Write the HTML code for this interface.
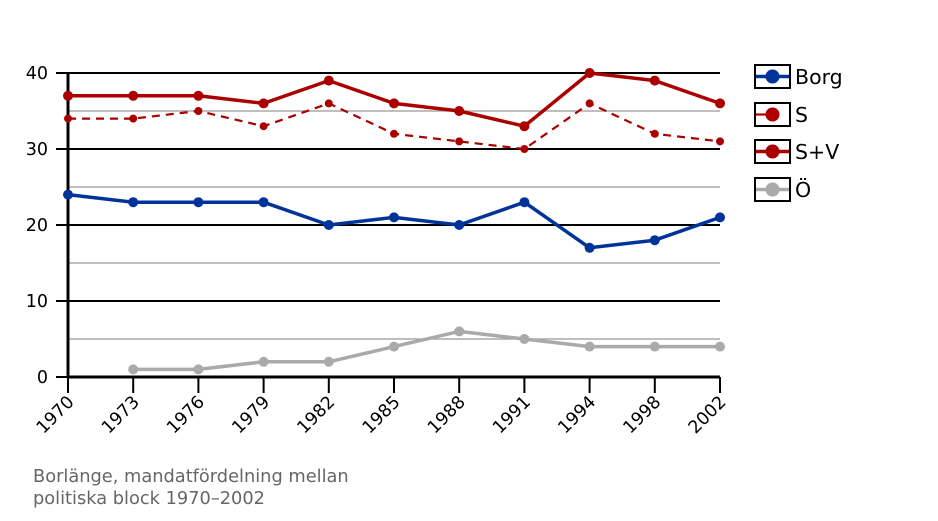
<!DOCTYPE html>
<html><head><meta charset="utf-8"><style>
html,body{margin:0;padding:0;background:#fff;}
svg{display:block;font-family:"DejaVu Sans","Liberation Sans",sans-serif;}
</style></head><body>
<svg width="938" height="521" viewBox="0 0 938 521">
<g stroke="#999" stroke-width="1.2">
<line x1="68" x2="720" y1="339" y2="339"/>
<line x1="68" x2="720" y1="263" y2="263"/>
<line x1="68" x2="720" y1="187" y2="187"/>
<line x1="68" x2="720" y1="111" y2="111"/>
</g>
<g stroke="#000" stroke-width="2">
<line x1="68" x2="720" y1="301" y2="301"/>
<line x1="68" x2="720" y1="225" y2="225"/>
<line x1="68" x2="720" y1="149" y2="149"/>
<line x1="68" x2="720" y1="73" y2="73"/>
<line x1="56" x2="68" y1="377" y2="377"/>
<line x1="56" x2="68" y1="301" y2="301"/>
<line x1="56" x2="68" y1="225" y2="225"/>
<line x1="56" x2="68" y1="149" y2="149"/>
<line x1="56" x2="68" y1="73" y2="73"/>
</g>
<g stroke="#000" stroke-width="2">
<line x1="68" x2="68" y1="377" y2="393"/>
<line x1="133.2" x2="133.2" y1="377" y2="393"/>
<line x1="198.4" x2="198.4" y1="377" y2="393"/>
<line x1="263.6" x2="263.6" y1="377" y2="393"/>
<line x1="328.8" x2="328.8" y1="377" y2="393"/>
<line x1="394" x2="394" y1="377" y2="393"/>
<line x1="459.2" x2="459.2" y1="377" y2="393"/>
<line x1="524.4" x2="524.4" y1="377" y2="393"/>
<line x1="589.6" x2="589.6" y1="377" y2="393"/>
<line x1="654.8" x2="654.8" y1="377" y2="393"/>
<line x1="720" x2="720" y1="377" y2="393"/>
</g>
<line x1="68" x2="720" y1="377" y2="377" stroke="#000" stroke-width="3"/>
<line x1="68" x2="68" y1="72" y2="378" stroke="#000" stroke-width="3"/>
<g font-size="17.5" fill="#000" text-anchor="end">
<text x="48" y="383">0</text><text x="48" y="307">10</text><text x="48" y="231">20</text><text x="48" y="155">30</text><text x="48" y="79">40</text>
</g>
<g font-size="17.5" fill="#000" text-anchor="end">
<text transform="translate(75,403) rotate(-45)">1970</text>
<text transform="translate(140.2,403) rotate(-45)">1973</text>
<text transform="translate(205.4,403) rotate(-45)">1976</text>
<text transform="translate(270.6,403) rotate(-45)">1979</text>
<text transform="translate(335.8,403) rotate(-45)">1982</text>
<text transform="translate(401,403) rotate(-45)">1985</text>
<text transform="translate(466.2,403) rotate(-45)">1988</text>
<text transform="translate(531.4,403) rotate(-45)">1991</text>
<text transform="translate(596.6,403) rotate(-45)">1994</text>
<text transform="translate(661.8,403) rotate(-45)">1998</text>
<text transform="translate(727,403) rotate(-45)">2002</text>
</g>
<g fill="none" stroke-width="3.5" stroke-linejoin="round">
<polyline stroke="#aaa" points="133.2,369.4 198.4,369.4 263.6,361.8 328.8,361.8 394,346.6 459.2,331.4 524.4,339 589.6,346.6 654.8,346.6 720,346.6"/>
<polyline stroke="#003399" points="68,194.6 133.2,202.2 198.4,202.2 263.6,202.2 328.8,225 394,217.4 459.2,225 524.4,202.2 589.6,247.8 654.8,240.2 720,217.4"/>
<polyline stroke="#aa0000" points="68,95.8 133.2,95.8 198.4,95.8 263.6,103.4 328.8,80.6 394,103.4 459.2,111 524.4,126.2 589.6,73 654.8,80.6 720,103.4"/>
<polyline stroke="#aa0000" stroke-width="2.2" stroke-dasharray="8,6" points="68,118.6 133.2,118.6 198.4,111 263.6,126.2 328.8,103.4 394,133.8 459.2,141.4 524.4,149 589.6,103.4 654.8,133.8 720,141.4"/>
</g>
<g fill="#aaa"><circle cx="133.2" cy="369.4" r="5"/><circle cx="198.4" cy="369.4" r="5"/><circle cx="263.6" cy="361.8" r="5"/><circle cx="328.8" cy="361.8" r="5"/><circle cx="394" cy="346.6" r="5"/><circle cx="459.2" cy="331.4" r="5"/><circle cx="524.4" cy="339" r="5"/><circle cx="589.6" cy="346.6" r="5"/><circle cx="654.8" cy="346.6" r="5"/><circle cx="720" cy="346.6" r="5"/></g>
<g fill="#003399"><circle cx="68" cy="194.6" r="5"/><circle cx="133.2" cy="202.2" r="5"/><circle cx="198.4" cy="202.2" r="5"/><circle cx="263.6" cy="202.2" r="5"/><circle cx="328.8" cy="225" r="5"/><circle cx="394" cy="217.4" r="5"/><circle cx="459.2" cy="225" r="5"/><circle cx="524.4" cy="202.2" r="5"/><circle cx="589.6" cy="247.8" r="5"/><circle cx="654.8" cy="240.2" r="5"/><circle cx="720" cy="217.4" r="5"/></g>
<g fill="#aa0000"><circle cx="68" cy="95.8" r="5"/><circle cx="133.2" cy="95.8" r="5"/><circle cx="198.4" cy="95.8" r="5"/><circle cx="263.6" cy="103.4" r="5"/><circle cx="328.8" cy="80.6" r="5"/><circle cx="394" cy="103.4" r="5"/><circle cx="459.2" cy="111" r="5"/><circle cx="524.4" cy="126.2" r="5"/><circle cx="589.6" cy="73" r="5"/><circle cx="654.8" cy="80.6" r="5"/><circle cx="720" cy="103.4" r="5"/></g>
<g fill="#aa0000"><circle cx="68" cy="118.6" r="4"/><circle cx="133.2" cy="118.6" r="4"/><circle cx="198.4" cy="111" r="4"/><circle cx="263.6" cy="126.2" r="4"/><circle cx="328.8" cy="103.4" r="4"/><circle cx="394" cy="133.8" r="4"/><circle cx="459.2" cy="141.4" r="4"/><circle cx="524.4" cy="149" r="4"/><circle cx="589.6" cy="103.4" r="4"/><circle cx="654.8" cy="133.8" r="4"/><circle cx="720" cy="141.4" r="4"/></g>
<g stroke="#000" stroke-width="2" fill="#fff">
<rect x="755" y="65" width="35" height="23"/>
<rect x="755" y="103" width="35" height="23"/>
<rect x="755" y="140" width="35" height="23"/>
<rect x="755" y="178" width="35" height="23"/>
</g>
<line x1="756" x2="789" y1="76.5" y2="76.5" stroke="#003399" stroke-width="3.5"/><circle cx="772.5" cy="76.5" r="7" fill="#003399"/>
<line x1="756" x2="772" y1="114.5" y2="114.5" stroke="#aa0000" stroke-width="2.2"/><circle cx="772.5" cy="114.5" r="7" fill="#aa0000"/>
<line x1="756" x2="789" y1="151.5" y2="151.5" stroke="#aa0000" stroke-width="3.5"/><circle cx="772.5" cy="151.5" r="7" fill="#aa0000"/>
<line x1="756" x2="789" y1="189.5" y2="189.5" stroke="#aaa" stroke-width="3.5"/><circle cx="772.5" cy="189.5" r="7" fill="#aaa"/>
<g font-size="20.5" fill="#000">
<text x="795" y="84">Borg</text><text x="795" y="122">S</text><text x="795" y="159">S+V</text><text x="795" y="197">Ö</text>
</g>
<g font-size="17.8" fill="#666">
<text x="33" y="482">Borlänge, mandatfördelning mellan</text>
<text x="33" y="504">politiska block 1970–2002</text>
</g>
</svg>
</body></html>
